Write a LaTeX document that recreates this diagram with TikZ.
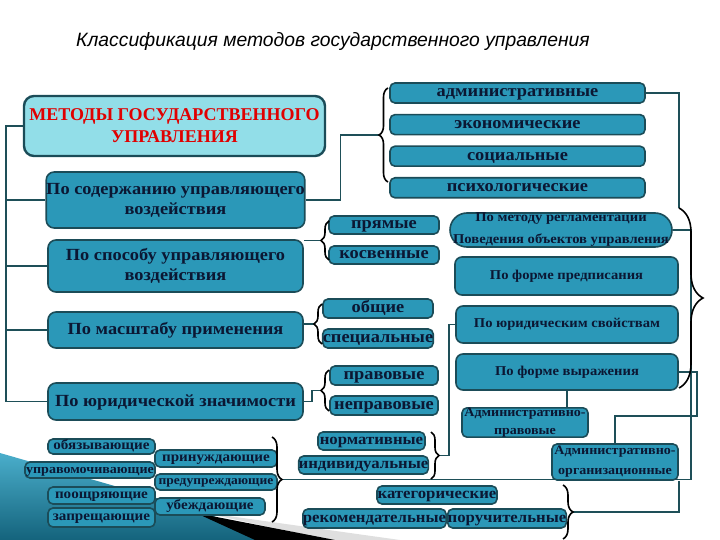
\documentclass[tikz,border=0pt]{standalone}
\usepackage{fontspec}
\setmainfont{Liberation Serif}
\newfontfamily\boxfont[FakeStretch=1.08]{Liberation Serif}
\newfontfamily\titlefont{Liberation Sans}
\usepackage{xcolor}
\usetikzlibrary{positioning, decorations.pathreplacing, calc, backgrounds}

\definecolor{boxfill}{HTML}{2B98B8}
\definecolor{boxline}{HTML}{1B4C58}
\definecolor{mainfill}{HTML}{92DEE8}
\definecolor{txtnavy}{HTML}{0B1733}
\definecolor{wirec}{HTML}{1E4F58}
\definecolor{redtxt}{HTML}{E00000}
\definecolor{swooshlt}{HTML}{4AAECB}
\definecolor{swooshdk}{HTML}{14637C}

\begin{document}
\begin{tikzpicture}[x=1pt, y=-1pt,
  box/.style={draw=boxline, line width=1.6pt, fill=boxfill, rounded corners=5pt, inner sep=0pt, text=txtnavy},
  oneline/.style={text height=#1, text depth=0pt},
  oneline/.default=7.8pt,
  bigtxt/.style={font=\boxfont\bfseries\fontsize{17}{20}\selectfont},
  midtxt/.style={font=\boxfont\bfseries\fontsize{15.5}{17}\selectfont},
  smalltxt/.style={font=\boxfont\bfseries\fontsize{13.5}{22}\selectfont},
  tinytxt/.style={font=\boxfont\bfseries\fontsize{14}{15}\selectfont},
  lcol/.style={box, bigtxt, rounded corners=8pt, minimum width=255pt},
  toprow/.style={box, bigtxt, oneline, minimum width=255pt, minimum height=20pt},
  rcol/.style={box, smalltxt, rounded corners=7pt, minimum width=222pt},
  link/.style={draw=wirec, line width=1.4pt},
  curly/.style={draw=black, line width=1.6pt, decorate, decoration={brace, amplitude=#1}},
  curly/.default=8
]
\useasboundingbox (0,0) rectangle (720,540);

% title
\node[font=\titlefont\itshape\fontsize{19.3}{22}\selectfont] (title) at (333,42) {Классификация методов государственного управления};

% main box and left column
\node[box, align=center, fill=mainfill, text=redtxt, line width=2.4pt, rounded corners=10pt, font=\bfseries\fontsize{18}{22}\selectfont, minimum width=301pt, minimum height=60pt] (main) at (174.5,126) {МЕТОДЫ ГОСУДАРСТВЕННОГО\\УПРАВЛЕНИЯ};
\node[lcol, align=center, minimum height=56pt] (soderzh) at (175.5,200) {По содержанию управляющего\\воздействия};
\node[lcol, align=center, minimum height=52pt] (sposob) at (175.5,266) {По способу управляющего\\воздействия};
\node[lcol, oneline=9pt, minimum height=36pt] (masshtab) at (175.5,330) {По масштабу применения};
\node[lcol, oneline=9pt, minimum height=37pt] (yurid) at (175.5,401.5) {По юридической значимости};

% top group
\node[toprow] (adm) at (517.5,93) {административные};
\node[toprow, below=10pt of adm] (econ) {экономические};
\node[toprow, below=10pt of econ] (soc) {социальные};
\node[toprow, below=10pt of soc] (psych) {психологические};

% middle column
\node[box, bigtxt, oneline, minimum width=110pt, minimum height=18pt] (pryam) at (384,225) {прямые};
\node[box, bigtxt, oneline, minimum width=110pt, minimum height=18pt] (kosv) at (384,255) {косвенные};
\node[box, bigtxt, oneline, minimum width=110pt, minimum height=19pt] (obsch) at (378,308.5) {общие};
\node[box, bigtxt, oneline, minimum width=110pt, minimum height=19pt] (spec) at (378,338.5) {специальные};
\node[box, bigtxt, oneline, minimum width=108pt, minimum height=19pt] (prav) at (384,375.5) {правовые};
\node[box, bigtxt, oneline, minimum width=108pt, minimum height=19pt] (neprav) at (384,405.5) {неправовые};
\node[box, midtxt, oneline=7.1pt, minimum width=107pt, minimum height=18pt] (normat) at (371.5,441) {нормативные};
\node[box, midtxt, oneline=7.1pt, minimum width=127pt, minimum height=18pt] (indiv) at (363.5,465) {индивидуальные};
\node[box, midtxt, oneline=7.1pt, minimum width=120pt, minimum height=18pt] (kateg) at (437,495) {категорические};
\node[box, midtxt, oneline=7.1pt, minimum width=139pt, minimum height=19pt] (rekom) at (374.5,518.5) {рекомендательные};
\node[box, midtxt, oneline=7.1pt, minimum width=116pt, minimum height=19pt] (poruch) at (507,518.5) {поручительные};

% right column
\node[rcol, align=center, rounded corners=17pt, minimum height=34pt] (metod) at (561,230) {По методу регламентации\\Поведения объектов управления};
\node[rcol, oneline=6.2pt, minimum width=223pt, minimum height=38pt] (predpis) at (566.5,276) {По форме предписания};
\node[rcol, oneline=6.2pt, minimum height=37pt] (yursv) at (567,324.5) {По юридическим свойствам};
\node[rcol, oneline=6.2pt, minimum height=36pt] (forma) at (567,372) {По форме выражения};
\node[box, align=center, font=\boxfont\bfseries\fontsize{13}{18}\selectfont, minimum width=126pt, minimum height=29pt] (admprav) at (525,422.5) {Административно-\\правовые};
\node[box, align=center, font=\boxfont\bfseries\fontsize{13}{20}\selectfont, minimum width=126pt, minimum height=36pt] (admorg) at (615,462) {Административно-\\организационные};

% bottom left
\node[box, tinytxt, oneline=6.4pt, minimum width=107pt, minimum height=15pt] (obyaz) at (101.5,446.5) {обязывающие};
\node[box, oneline=6pt, font=\boxfont\bfseries\fontsize{13}{15}\selectfont, minimum width=130pt, minimum height=16pt] (upravom) at (90,470) {управомочивающие};
\node[box, tinytxt, oneline=6.4pt, minimum width=107pt, minimum height=17pt] (pooshch) at (101.5,495.5) {поощряющие};
\node[box, tinytxt, oneline=6.4pt, minimum width=107pt, minimum height=19pt] (zapr) at (101.5,517.5) {запрещающие};
\node[box, tinytxt, oneline=6.4pt, minimum width=122pt, minimum height=17pt] (prinuzh) at (216,458.5) {принуждающие};
\node[box, oneline=5.8pt, font=\boxfont\bfseries\fontsize{12.5}{15}\selectfont, minimum width=122pt, minimum height=16pt] (predupr) at (216,482) {предупреждающие};
\node[box, tinytxt, oneline=6.4pt, minimum width=110pt, minimum height=17pt] (ubezh) at (210,506.5) {убеждающие};

% braces
\draw[curly=9] (388,182) -- (388,88);
\draw[curly] (329,260) -- (329,221);
\draw[curly] (322,344) -- (322,304);
\draw[curly] (329,411) -- (329,370);
\draw[curly] (431,432) -- (431,479);
\draw[curly=10] (272,437) -- (272,522);
\draw[curly=10] (563,485) -- (563,539);
\draw[curly=24] (679,208) -- (679,388);
\coordinate (b1tip) at (379,135);
\coordinate (b2tip) at (321,240.5);
\coordinate (b3tip) at (314,324);
\coordinate (b4tip) at (321,390.5);
\coordinate (b5tip) at (439,455.5);
\coordinate (b6tip) at (282,479.5);
\coordinate (b7tip) at (573,512);
\coordinate (b8top) at (679,208);
\coordinate (trunk) at (6,126);

\begin{scope}[on background layer]
% template swoosh
\shade[top color=swooshlt, bottom color=swooshdk] (0,453) -- (205,512) -- (265,540) -- (0,540) -- cycle;
\fill[gray!25] (200,512) -- (400,540) -- (330,540) -- cycle;
\fill[black] (196,513) -- (335,540) -- (255,540) -- cycle;
% connectors
\draw[link] (main.west) -- (trunk) |- (yurid.west);
\foreach \n in {soderzh, sposob, masshtab}
  \draw[link] (trunk) |- (\n.west);
\draw[link] (soderzh.east) -- ++(35,0) |- (b1tip);
\draw[link] (sposob.east |- b2tip) -- (b2tip);
\draw[link] (masshtab.east |- b3tip) -- (b3tip);
\draw[link] (yurid.east) -- ++(8,0) |- (b4tip);
\draw[link] (b5tip) -- ++(10,0) |- (yursv.west);
\draw[link] (metod.east) -- ++(18,0) |- (b6tip);
\draw[link] (b7tip) -| (admorg.south east);
\draw[link] (adm.east) -| (b8top);
\draw[link] (forma.east) -- ++(18,0) -- ++(0,44) -| (admorg.north);
\draw[link] (forma.south) -- (forma.south |- admprav.north);
\end{scope}
\end{tikzpicture}
\end{document}
